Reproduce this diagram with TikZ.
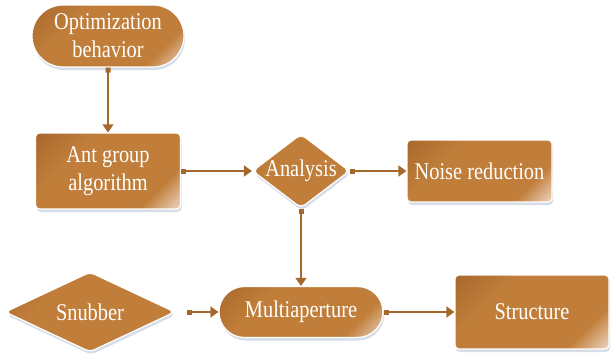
\documentclass[tikz,border=0pt]{standalone}
\usepackage{fontspec}
\setmainfont{Liberation Serif}
\usepackage{graphicx}
\usepackage{tikz}
\usetikzlibrary{shapes.geometric, shapes.misc, arrows.meta, shadows, positioning}

\definecolor{oxDark}{RGB}{170,106,45}
\definecolor{oxMid}{RGB}{192,126,58}
\definecolor{oxLight}{RGB}{232,204,178}
\definecolor{oxLine}{RGB}{165,104,44}
\definecolor{oxGlow}{RGB}{205,212,226}
\pgfdeclareverticalshading{oxshade}{100bp}{color(0bp)=(oxLight); color(16bp)=(oxLight); color(28bp)=(oxMid); color(66bp)=(oxMid); color(84bp)=(oxDark); color(100bp)=(oxDark)}

\newcommand{\sq}[1]{\scalebox{0.85}[1]{#1}}

\begin{document}
\begin{tikzpicture}[x=1pt, y=-1pt,
    box/.style={draw=white, line width=1.2pt, shading=oxshade, shading angle=45,
        drop shadow={shadow xshift=1pt, shadow yshift=-3pt, fill=oxGlow, opacity=0.8},
        text=white, font=\fontsize{24}{28}\selectfont, align=center, inner sep=0pt},
    lbl/.style={text=white, font=\fontsize{24}{28}\selectfont},
    pill/.style={box, rounded rectangle},
    card/.style={box, rectangle, rounded corners=4pt},
    choice/.style={box, diamond, rounded corners=5pt},
    link/.style={draw=oxLine, line width=1.6pt, {Square[length=5pt,width=5pt]}-{Triangle[length=8pt,width=11pt]}}]
    \useasboundingbox (0,0) rectangle (611,356);

    \node[pill, minimum width=152pt, minimum height=62pt] (opt) at (108,36) {\sq{Optimization}\\\sq{behavior}};
    \node[card, minimum width=145pt, minimum height=76pt] (ant) at (108,171) {\sq{Ant group}\\\sq{algorithm}};
    \node[choice, minimum width=97pt, minimum height=74pt, label={[lbl]center:\sq{Analysis}}] (ana) at (301,171) {};
    \node[card, minimum width=145pt, minimum height=62pt] (noise) at (479.5,171) {\sq{Noise reduction}};
    \node[choice, minimum width=170pt, minimum height=80pt, label={[lbl]center:\sq{Snubber}}] (snub) at (90,312) {};
    \node[pill, minimum width=164pt, minimum height=51pt] (multi) at (301,312) {\sq{Multiaperture}};
    \node[card, minimum width=154pt, minimum height=74pt] (struct) at (532,312) {\sq{Structure}};

    \draw[link] (opt) -- (ant);
    \draw[link] (ant) -- (ana);
    \draw[link] (ana) -- (noise);
    \draw[link] (ana) -- (multi);
    \draw[link, shorten <=11pt] (snub) -- (multi);
    \draw[link] (multi) -- (struct);
\end{tikzpicture}
\end{document}
